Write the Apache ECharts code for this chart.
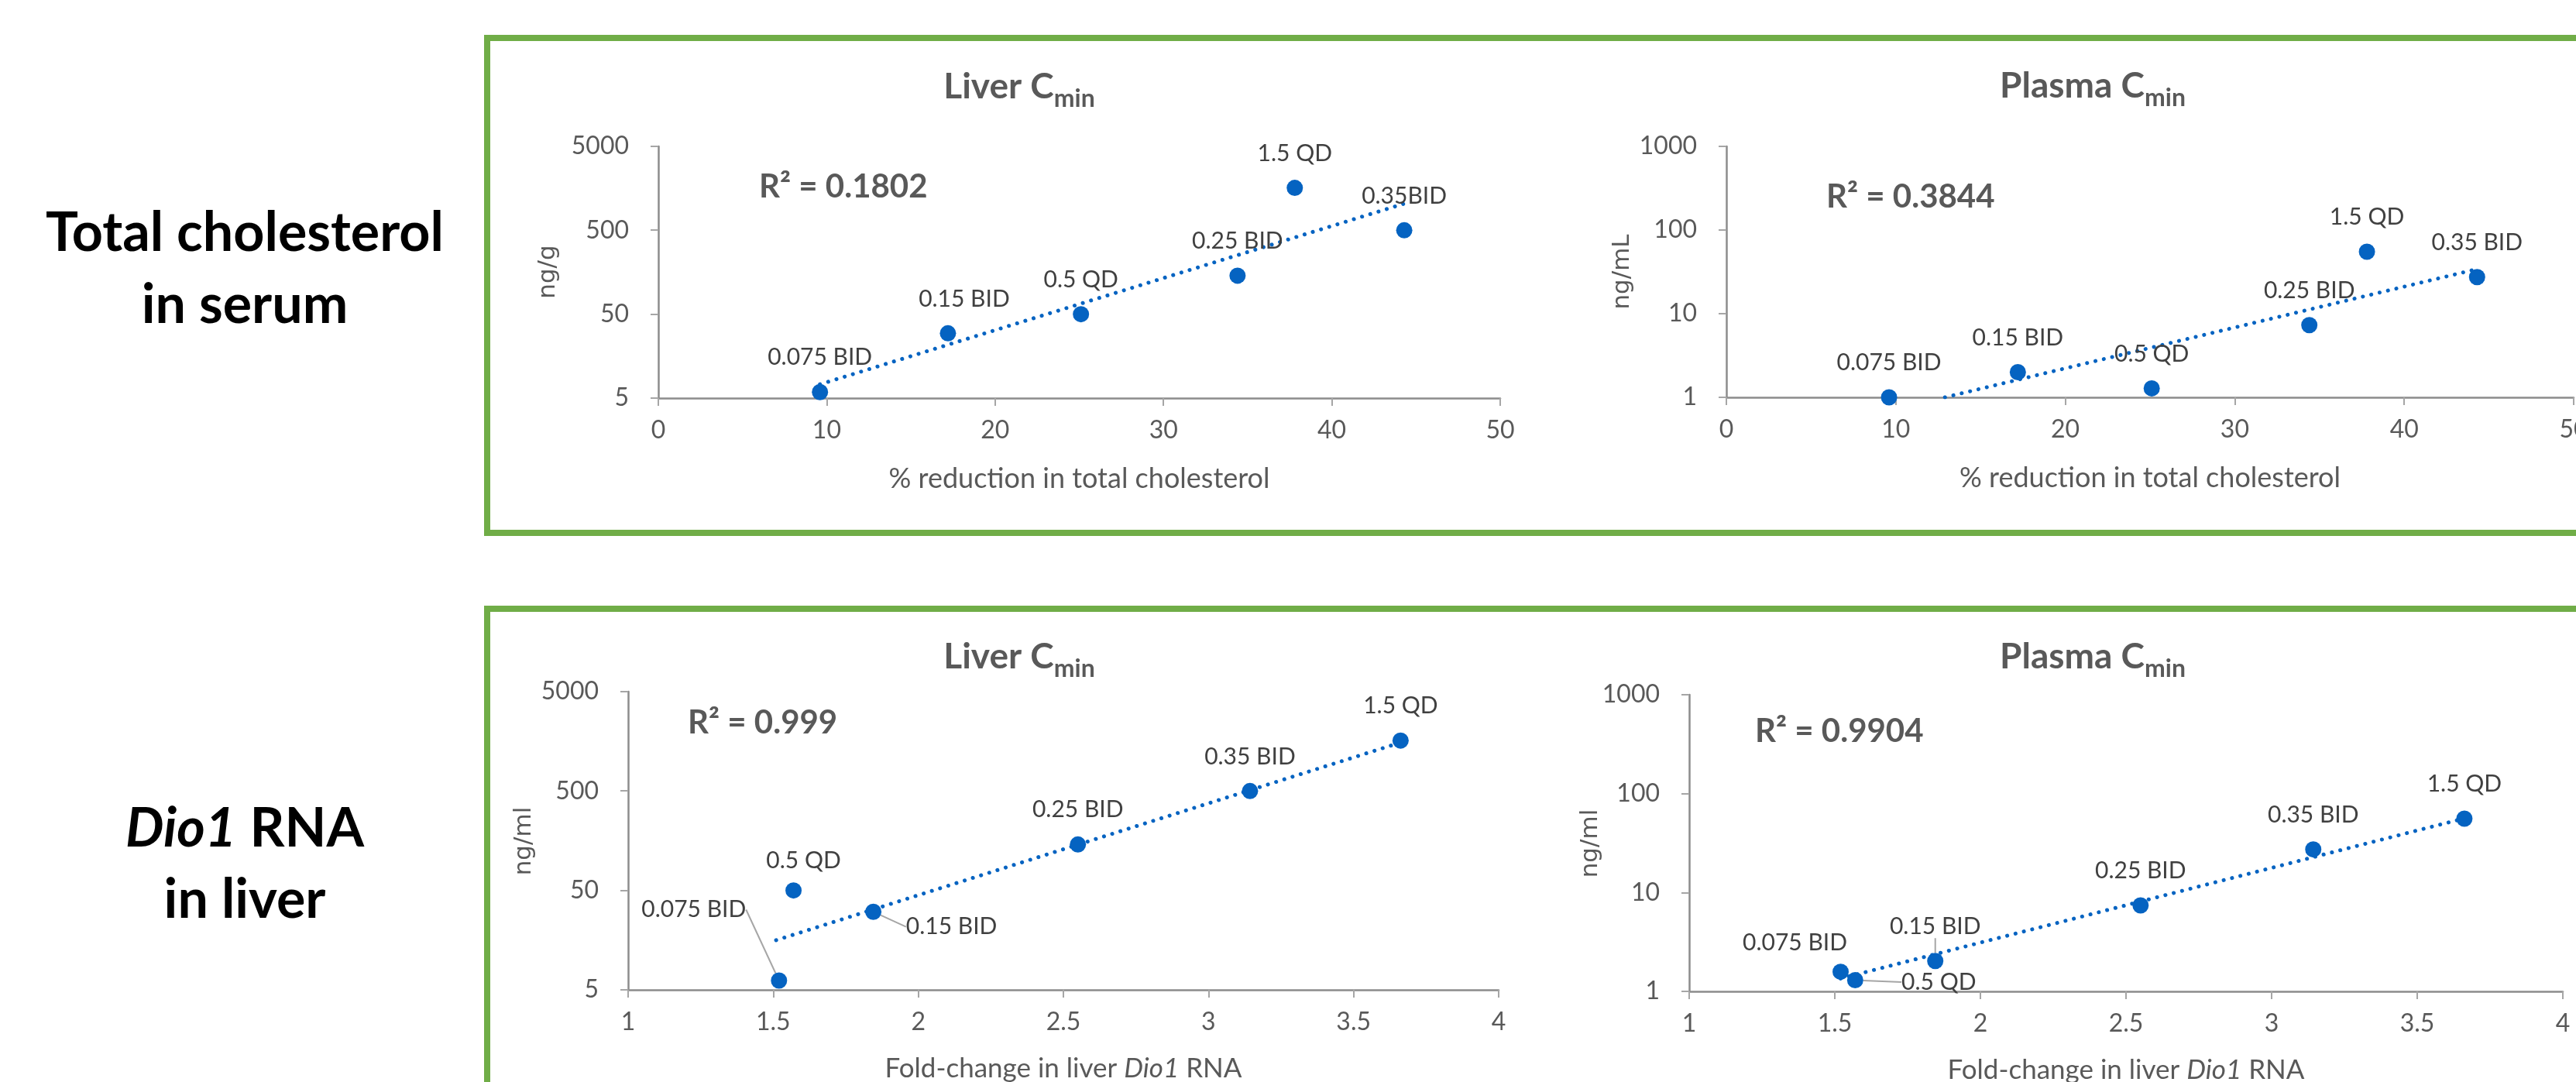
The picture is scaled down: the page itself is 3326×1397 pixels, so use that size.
<!DOCTYPE html>
<html>
<head>
<meta charset="utf-8">
<title>Cmin vs response</title>
<script src="https://cdn.jsdelivr.net/npm/echarts@6/dist/echarts.min.js"></script>
<style>
  html, body { margin: 0; padding: 0; background: #fff; }
  #main { width: 3326px; height: 1397px; }
</style>
</head>
<body>
<div id="main"></div>
<script>
// top row: % reduction in total cholesterol
const cholReduction = [9.6, 17.2, 25.1, 34.4, 37.8, 44.3];
const cholDosesLiver = ['0.075 BID', '0.15 BID', '0.5 QD', '0.25 BID', '1.5 QD', '0.35BID'];
const cholDosesPlasma = ['0.075 BID', '0.15 BID', '0.5 QD', '0.25 BID', '1.5 QD', '0.35 BID'];
const liverCminChol = [5.9, 29.6, 50, 144, 1600, 500];     // ng/g
const plasmaCminChol = [1.0, 2.0, 1.28, 7.3, 55, 27.4];    // ng/mL

// bottom row: fold-change in liver Dio1 RNA
const dio1Fold = [1.52, 1.57, 1.845, 2.55, 3.143, 3.662];
const dio1Doses = ['0.075 BID', '0.5 QD', '0.15 BID', '0.25 BID', '0.35 BID', '1.5 QD'];
const liverCminDio1 = [6.2, 50, 30.5, 145, 500, 1610];      // ng/ml
const plasmaCminDio1 = [1.58, 1.3, 2.03, 7.4, 27.3, 55.8];  // ng/ml

// dotted trend lines (end points)
const trendLiverChol = [[9.6, 7.3], [44.3, 1040]];
const trendPlasmaChol = [[12.9, 1], [44.0, 33]];
const trendLiverDio1 = [[1.51, 15.8], [3.65, 1500]];
const trendPlasmaDio1 = [[1.52, 1.35], [3.66, 56]];

const r2Labels = ['R² = 0.1802', 'R² = 0.3844', 'R² = 0.999', 'R² = 0.9904'];

const blue = '#0563C1';
const grey = '#595959';

// labels Excel had dragged away from the default "above" spot
const shifts = [
  { 1: [21, 0] },
  {},
  { 0: [-110, -47], 1: [13, 6], 2: [101, 64] },
  { 0: [-59, 7], 1: [108, 47] }
];
const leaders = [[], [], [0, 2], [1, 2]];

const grids = [
  { left: 850, top: 189, width: 1087, height: 325 },
  { left: 2229, top: 189, width: 1094, height: 324 },
  { left: 811, top: 893, width: 1124, height: 385 },
  { left: 2181, top: 897, width: 1128, height: 383 }
];

function nameRich(size) {
  return {
    n: { fontSize: size, color: grey, fontFamily: 'Lato' },
    i: { fontSize: size, color: grey, fontFamily: 'Lato', fontStyle: 'italic' }
  };
}

function xAxis(i, min, max, interval, name, size, gap) {
  return {
    type: 'value', gridIndex: i, min: min, max: max, interval: interval,
    name: name, nameLocation: 'middle', nameGap: gap,
    nameTextStyle: { fontSize: size, color: grey, fontFamily: 'Lato', rich: nameRich(size) },
    axisLine: { onZero: false, lineStyle: { color: '#8C8C8C', width: 2.5 } },
    axisTick: { show: true, length: 10, lineStyle: { color: '#A6A6A6', width: 2 } },
    axisLabel: { fontSize: 32, color: grey, fontFamily: 'Lato', margin: 26 },
    splitLine: { show: false }
  };
}

function yAxis(i, min, max) {
  return {
    type: 'log', logBase: 10, gridIndex: i, min: min, max: max, interval: 1,
    axisLine: { show: true, lineStyle: { color: '#8C8C8C', width: 2.5 } },
    axisTick: { show: true, length: 10, lineStyle: { color: '#A6A6A6', width: 2 } },
    axisLabel: { fontSize: 32, color: grey, fontFamily: 'Lato', margin: 38,
      formatter: v => String(Number(Number(v).toPrecision(1))) },
    splitLine: { show: false }
  };
}

function scatter(i, xs, ys, names) {
  return {
    type: 'scatter', xAxisIndex: i, yAxisIndex: i, symbolSize: 21, z: 3,
    itemStyle: { color: blue, opacity: 1 },
    data: xs.map((x, k) => {
      const d = { value: [x, ys[k]], name: names[k] };
      if (leaders[i].includes(k)) d.labelLine = { show: true };
      return d;
    }),
    label: { show: true, position: 'top', distance: 19, formatter: '{b}',
      fontSize: 30, color: '#404040', fontFamily: 'Lato' },
    labelLine: { show: false, lineStyle: { color: '#A6A6A6', width: 2 } },
    labelLayout: p => {
      const s = shifts[i][p.dataIndex];
      return s ? { dx: s[0], dy: s[1] } : {};
    },
    emphasis: { disabled: true }
  };
}

function trend(i, pts) {
  return {
    type: 'line', xAxisIndex: i, yAxisIndex: i, data: pts, z: 2,
    showSymbol: false, silent: true, clip: true,
    lineStyle: { color: blue, width: 5, type: [0.1, 11], cap: 'round' }
  };
}

function title(x, y, main) {
  return {
    type: 'text', x: x, y: y, silent: true,
    style: {
      text: '{a|' + main + ' C}{b|min}', align: 'center', verticalAlign: 'middle',
      rich: {
        a: { fontSize: 46, fontWeight: 'bold', fontFamily: 'Lato', fill: grey },
        b: { fontSize: 32, fontWeight: 'bold', fontFamily: 'Lato', fill: grey,
          padding: [32, 0, 0, 0] }
      }
    }
  };
}

function plain(x, y, text, size, color, align) {
  return {
    type: 'text', x: x, y: y, silent: true,
    style: { text: text, fontSize: size, fontWeight: 'bold', fontFamily: 'Lato',
      fill: color, align: align, verticalAlign: 'middle',
      rich: { i: { fontSize: size, fontWeight: 'bold', fontStyle: 'italic', fontFamily: 'Lato', fill: color } } }
  };
}

function unit(x, y, text) {
  return {
    type: 'text', x: x, y: y, rotation: Math.PI / 2, silent: true,
    style: { text: text, fontSize: 31, fontFamily: 'DejaVu Sans', fill: grey,
      align: 'center', verticalAlign: 'middle' }
  };
}

const chart = echarts.init(document.getElementById('main'));

chart.setOption({
  backgroundColor: '#ffffff',
  animation: false,
  textStyle: { fontFamily: 'Lato' },
  grid: grids.map(g => Object.assign({ outerBoundsMode: 'none', containLabel: false }, g)),
  xAxis: [
    xAxis(0, 0, 50, 10, '{n|% reduction in total cholesterol}', 36, 86),
    xAxis(1, 0, 50, 10, '{n|% reduction in total cholesterol}', 36, 86),
    xAxis(2, 1, 4, 0.5, '{n|Fold-change in liver }{i|Dio1}{n| RNA}', 35, 84),
    xAxis(3, 1, 4, 0.5, '{n|Fold-change in liver }{i|Dio1}{n| RNA}', 35, 84)
  ],
  yAxis: [
    yAxis(0, 5, 5000),
    yAxis(1, 1, 1000),
    yAxis(2, 5, 5000),
    yAxis(3, 1, 1000)
  ],
  series: [
    trend(0, trendLiverChol), scatter(0, cholReduction, liverCminChol, cholDosesLiver),
    trend(1, trendPlasmaChol), scatter(1, cholReduction, plasmaCminChol, cholDosesPlasma),
    trend(2, trendLiverDio1), scatter(2, dio1Fold, liverCminDio1, dio1Doses),
    trend(3, trendPlasmaDio1), scatter(3, dio1Fold, plasmaCminDio1, dio1Doses)
  ],
  graphic: [
    { type: 'rect', z: -1, silent: true, shape: { x: 629, y: 49, width: 2800, height: 639 },
      style: { fill: 'none', stroke: '#70AD47', lineWidth: 8 } },
    { type: 'rect', z: -1, silent: true, shape: { x: 629, y: 786, width: 2800, height: 700 },
      style: { fill: 'none', stroke: '#70AD47', lineWidth: 8 } },
    plain(316, 301, 'Total cholesterol', 70, '#000000', 'center'),
    plain(316, 394, 'in serum', 70, '#000000', 'center'),
    plain(316, 1070, '{i|Dio1} RNA', 70, '#000000', 'center'),
    plain(316, 1162, 'in liver', 70, '#000000', 'center'),
    title(1316, 112, 'Liver'),
    title(2702, 111, 'Plasma'),
    title(1316, 848, 'Liver'),
    title(2702, 848, 'Plasma'),
    plain(980, 241, r2Labels[0], 42, grey, 'left'),
    plain(2358, 254, r2Labels[1], 42, grey, 'left'),
    plain(888, 933, r2Labels[2], 42, grey, 'left'),
    plain(2266, 944, r2Labels[3], 42, grey, 'left'),
    unit(708, 351, 'ng/g'),
    unit(2095, 351, 'ng/mL'),
    unit(677, 1086, 'ng/ml'),
    unit(2054, 1089, 'ng/ml')
  ]
});
</script>
</body>
</html>
